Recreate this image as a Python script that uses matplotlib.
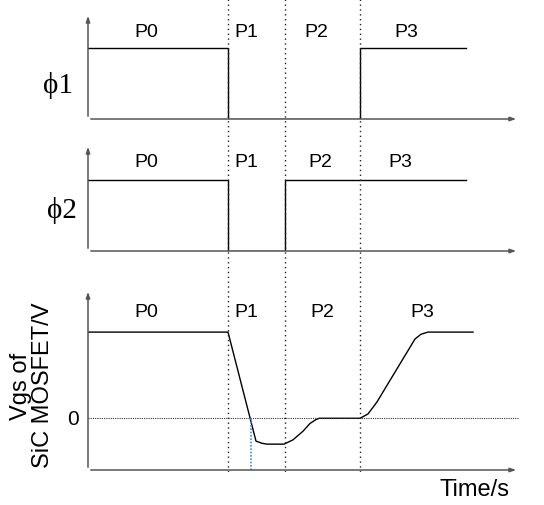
import numpy as np
import matplotlib.pyplot as plt

# phase boundaries (time units, arbitrary)
bounds = [140, 197, 272]
t_end = 431

# gate signals
phi1_t = [0, 140, 140, 272, 272, 378]
phi1_v = [1, 1, 0, 0, 1, 1]
phi2_t = [0, 140, 140, 197, 197, 378]
phi2_v = [1, 1, 0, 0, 1, 1]

# Vgs waveform
vgs_t = [0, 140, 168, 174, 179, 196, 205, 215, 222, 228, 231, 272, 280, 289, 327, 333, 340, 385]
vgs_v = [20, 20, -5.3, -5.8, -6, -6, -5, -3, -1.2, -0.3, 0, 0, 1, 3.8, 18.4, 19.5, 20, 20]
zero_cross = 163

phase_labels = ['P0', 'P1', 'P2', 'P3']
lab1_x = [58, 158, 228, 318]
lab2_x = [58, 158, 232, 312]
lab3_x = [58, 158, 234, 334]

W, H = 544, 506
fig = plt.figure(figsize=(W / 100, H / 100), dpi=100)

def px_axes(left, top, right, bottom):
    return fig.add_axes([left / W, 1 - bottom / H, (right - left) / W, (bottom - top) / H])

ax1 = px_axes(88, 14, 519, 120)
ax2 = px_axes(88, 145, 519, 252)
ax3 = px_axes(88, 290, 519, 471)

axcol = '#555555'
sans = ['Liberation Sans', 'DejaVu Sans']
serif = ['Liberation Serif', 'DejaVu Serif']

for ax in (ax1, ax2, ax3):
    ax.set_xlim(0, t_end)
    for s in ax.spines.values():
        s.set_visible(False)
    ax.set_xticks([])
    ax.set_yticks([])
    ax.patch.set_alpha(0)
    ax.annotate('', xy=(0, 1), xytext=(0, 0), xycoords='axes fraction',
                arrowprops=dict(arrowstyle='-|>,head_length=0.35,head_width=0.12', color=axcol, lw=1.1))
    ax.annotate('', xy=(1, 0), xytext=(0, 0), xycoords='axes fraction',
                arrowprops=dict(arrowstyle='-|>,head_length=0.35,head_width=0.12', color=axcol, lw=1.1))

ax1.set_ylim(0, 1.5)
ax2.set_ylim(0, 1.5)
ax3.set_ylim(-12, 30)

ax1.plot(phi1_t, phi1_v, color='black', lw=1)
ax2.plot(phi2_t, phi2_v, color='black', lw=1)
ax3.plot(vgs_t, vgs_v, color='black', lw=1)

for lab, x in zip(phase_labels, lab1_x):
    ax1.text(x, 1.245, lab, ha='center', va='center', fontsize=14, family=sans)
for lab, x in zip(phase_labels, lab2_x):
    ax2.text(x, 1.26, lab, ha='center', va='center', fontsize=14, family=sans)
for lab, x in zip(phase_labels, lab3_x):
    ax3.text(x, 24.7, lab, ha='center', va='center', fontsize=14, family=sans)

ax1.text(-0.07, 0.33, '\u03d51', transform=ax1.transAxes, ha='center', va='center',
         fontsize=21, family=serif)
ax2.text(-0.06, 0.39, '\u03d52', transform=ax2.transAxes, ha='center', va='center',
         fontsize=21, family=serif)

# zero reference line and label
ax3.plot([0, t_end], [0, 0], color='#333333', lw=0.8, ls=(0, (1, 1)))
ax3.text(-15, 0, '0', ha='center', va='center', fontsize=15, family=sans)
ax3.plot([zero_cross, zero_cross], [-12, 0], color='#3a8ee6', lw=1.2, ls=(0, (1, 1)))

# phase boundary dotted lines through all panels
ov = px_axes(88, 0, 519, 473)
ov.set_xlim(0, t_end)
ov.set_ylim(0, 1)
ov.axis('off')
ov.vlines(bounds, 0, 1, colors='#222222', lw=1, linestyles=[(0, (1, 2.5))])

fig.text(21 / W, 1 - 386 / H, 'Vgs of', rotation=90, ha='center', va='center',
         fontsize=17, family=sans)
fig.text(43 / W, 1 - 385 / H, 'SiC MOSFET/V', rotation=90, ha='center', va='center',
         fontsize=17, family=sans)
fig.text(474 / W, 1 - 490 / H, 'Time/s', ha='center', va='center', fontsize=17,
         family=sans)

fig.savefig('out.png', dpi=100)
